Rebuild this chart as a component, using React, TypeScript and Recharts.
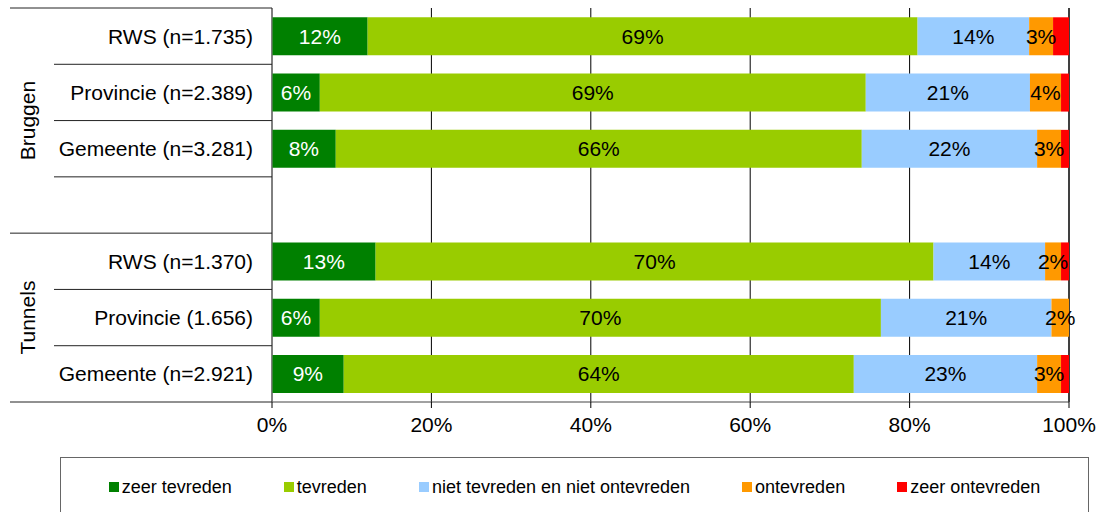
import React from 'react';
import { BarChart, Bar, XAxis, YAxis, CartesianGrid, LabelList } from 'recharts';

// rows top to bottom, the empty one separates Bruggen from Tunnels
const categories = ['RWS (n=1.735)', 'Provincie (n=2.389)', 'Gemeente (n=3.281)', '', 'RWS (n=1.370)', 'Provincie (1.656)', 'Gemeente (n=2.921)'];
const zeerTevreden = [12, 6, 8, null, 13, 6, 9];
const tevreden = [69, 68.5, 66, null, 70, 70.4, 64];
const nietNiet = [14, 20.6, 22, null, 14, 21.4, 23];
const ontevreden = [3, 3.9, 3, null, 2, 2.2, 3];
const zeerOntevreden = [2, 1, 1, null, 1, 0, 1];

const groups = [
    { label: 'Bruggen', first: 0, last: 3 },
    { label: 'Tunnels', first: 4, last: 6 },
];

const xTicks = [0, 20, 40, 60, 80, 100];

const series = [
    { key: 'zt', name: 'zeer tevreden', color: '#008000', values: zeerTevreden, labelColor: '#ffffff', label: true },
    { key: 't', name: 'tevreden', color: '#99CC00', values: tevreden, labelColor: '#000000', label: true },
    { key: 'nn', name: 'niet tevreden en niet ontevreden', color: '#99CCFF', values: nietNiet, labelColor: '#000000', label: true },
    { key: 'o', name: 'ontevreden', color: '#FF9900', values: ontevreden, labelColor: '#000000', label: true },
    { key: 'zo', name: 'zeer ontevreden', color: '#FF0000', values: zeerOntevreden, labelColor: '#000000', label: false },
];

const data = categories.map((name, i) => {
    const row: any = { name };
    series.forEach(s => { row[s.key] = s.values[i]; });
    return row;
});

const FONT = '"Liberation Sans", Arial, sans-serif';
const W = 1104;
const H = 512;
const margin = { top: 8, right: 35, bottom: 80, left: 0 };
const xAxisHeight = 30;
const yAxisWidth = 272;
const plotTop = margin.top;
const plotBottom = H - margin.bottom - xAxisHeight;
const band = (plotBottom - plotTop) / categories.length;

function CategoryTick(props: any) {
    const { y, payload, index } = props;
    const top = y - band / 2;
    const isGroupStart = groups.some(g => g.first === index);
    const group = groups.find(g => g.first === index);
    const isLast = index === categories.length - 1;
    return (
        <g>
            <line x1={isGroupStart ? 10 : 54} x2={yAxisWidth} y1={top} y2={top} stroke="#222" strokeWidth={1} />
            {isLast && <line x1={10} x2={yAxisWidth} y1={y + band / 2} y2={y + band / 2} stroke="#222" strokeWidth={1} />}
            <text x={253} y={y} dy="0.36em" textAnchor="end" fontSize={21} fontFamily={FONT} fill="#000">
                {payload.value}
            </text>
            {group && (
                <text
                    x={0}
                    y={0}
                    transform={`translate(27, ${top + ((group.last - group.first + 1) * band) / 2}) rotate(-90)`}
                    dy="0.36em"
                    textAnchor="middle"
                    fontSize={21}
                    fontFamily={FONT}
                    fill="#000"
                >
                    {group.label}
                </text>
            )}
        </g>
    );
}

const pct = (v: any) => (v === null || v === undefined || v === 0 ? '' : `${Math.round(v)}%`);

export default function App() {
    return (
        <div style={{ position: 'absolute', left: 0, top: 0, width: W, height: H, background: '#fff', fontFamily: FONT, overflow: 'hidden' }}>
            <BarChart width={W} height={H} data={data} layout="vertical" margin={margin} barCategoryGap="16.5%">
                <CartesianGrid horizontal={false} vertical={true} stroke="#000" strokeDasharray="" />
                <XAxis
                    type="number"
                    domain={[0, 100]}
                    ticks={xTicks}
                    tickFormatter={(v: number) => `${v}%`}
                    height={xAxisHeight}
                    tick={{ fontSize: 21, fill: '#000', fontFamily: FONT }}
                    tickSize={6}
                    tickMargin={9}
                    tickLine={{ stroke: '#000' }}
                    axisLine={{ stroke: '#444' }}
                    interval={0}
                />
                <YAxis
                    type="category"
                    dataKey="name"
                    width={yAxisWidth}
                    tick={<CategoryTick />}
                    tickLine={false}
                    axisLine={{ stroke: '#808080' }}
                    interval={0}
                />
                {series.map(s => (
                    <Bar key={s.key} dataKey={s.key} name={s.name} stackId="a" fill={s.color} isAnimationActive={false}>
                        {s.label && (
                            <LabelList
                                dataKey={s.key}
                                position="center"
                                formatter={pct}
                                fill={s.labelColor}
                                fontSize={21}
                                fontFamily={FONT}
                            />
                        )}
                    </Bar>
                ))}
            </BarChart>

            {/* legend box, partly cut off at the bottom like the original */}
            <div
                style={{
                    position: 'absolute',
                    left: 60,
                    top: 457,
                    width: 1029,
                    height: 70,
                    border: '1px solid #666',
                    boxSizing: 'border-box',
                    display: 'flex',
                    justifyContent: 'center',
                    alignItems: 'flex-start',
                    gap: 52,
                    paddingTop: 19,
                }}
            >
                {series.map(s => (
                    <div key={s.key} style={{ display: 'flex', alignItems: 'center', height: 20 }}>
                        <span style={{ display: 'inline-block', width: 10, height: 10, background: s.color, marginRight: 3 }} />
                        <span style={{ fontSize: 18, color: '#000', lineHeight: '20px' }}>{s.name}</span>
                    </div>
                ))}
            </div>
        </div>
    );
}
